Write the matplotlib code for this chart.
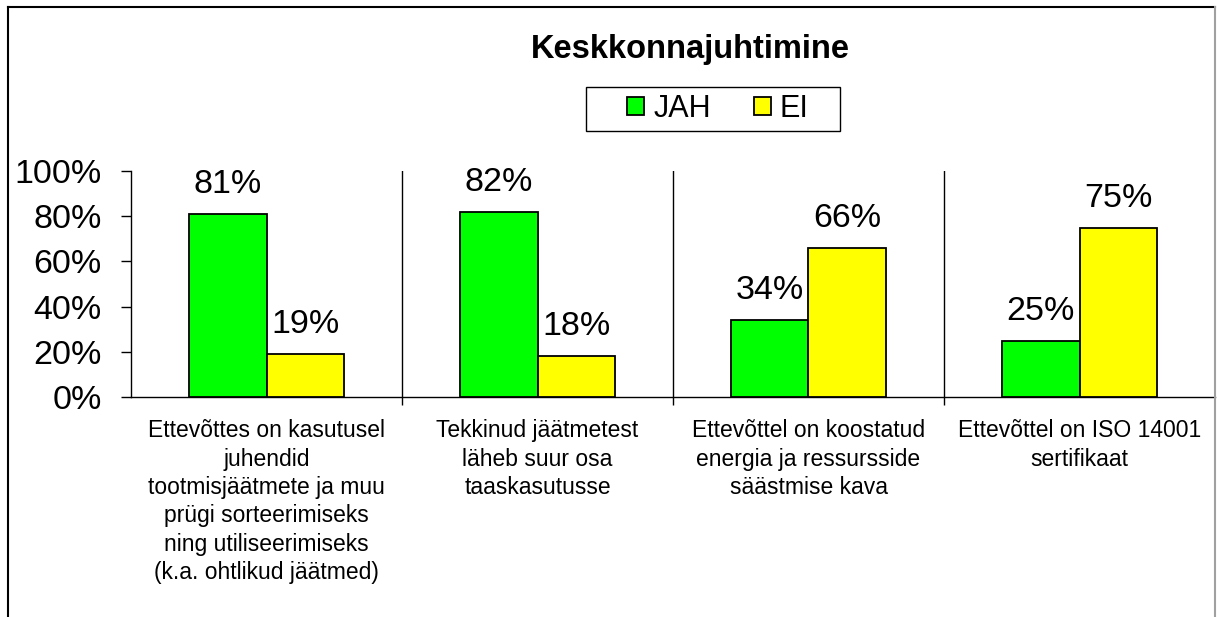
"""Keskkonnajuhtimine - grouped bar chart (JAH / EI)."""

import matplotlib
matplotlib.use("Agg")
import matplotlib.pyplot as plt
from matplotlib.lines import Line2D
from matplotlib.patches import Patch, Rectangle

W, H = 1217, 617

categories = [
    "Ettevõttes on kasutusel\njuhendid\ntootmisjäätmete ja muu\nprügi sorteerimiseks\nning utiliseerimiseks\n(k.a. ohtlikud jäätmed)",
    "Tekkinud jäätmetest\nläheb suur osa\ntaaskasutusse",
    "Ettevõttel on koostatud\nenergia ja ressursside\nsäästmise kava",
    "Ettevõttel on ISO 14001\nsertifikaat",
]
series_names = ["JAH", "EI"]
jah = [81, 82, 34, 25]
ei = [19, 18, 66, 75]
y_ticks = [0, 20, 40, 60, 80, 100]
y_ticklabels = ["0%", "20%", "40%", "60%", "80%", "100%"]

GREEN = "#00ff00"
YELLOW = "#ffff00"

plt.rcParams["font.family"] = ["Liberation Sans", "DejaVu Sans"]

fig = plt.figure(figsize=(W / 100, H / 100), dpi=100)
fig.patch.set_facecolor("white")

# axes placed in pixel terms
x0, x1 = 131, 1215
y_top, y_bot = 171, 397
ax = fig.add_axes([x0 / W, 1 - y_bot / H, (x1 - x0) / W, (y_bot - y_top) / H])

bw = 0.286
xs = list(range(len(categories)))
bars_j = ax.bar([x - bw / 2 for x in xs], jah, width=bw, color=GREEN,
                edgecolor="black", linewidth=1.3, zorder=3)
bars_e = ax.bar([x + bw / 2 for x in xs], ei, width=bw, color=YELLOW,
                edgecolor="black", linewidth=1.3, zorder=3)

for bars, vals in ((bars_j, jah), (bars_e, ei)):
    for b, v in zip(bars, vals):
        ax.annotate(f"{v}%", (b.get_x() + b.get_width() / 2, v),
                    xytext=(0, 15), textcoords="offset points",
                    ha="center", va="baseline", fontsize=24.5)

ax.set_xlim(-0.5, len(categories) - 0.5)
ax.set_ylim(0, 100)
ax.set_yticks(y_ticks)
ax.set_yticklabels(y_ticklabels, fontsize=24.5)
ax.tick_params(axis="y", direction="out", length=7.2, width=1, pad=14)

ax.set_xticks(xs)
ax.set_xticklabels(categories, fontsize=16.5, linespacing=1.3)
ax.tick_params(axis="x", which="major", length=0, pad=16)
ax.set_xticks([x + 0.5 for x in xs[:-1]], minor=True)
ax.tick_params(axis="x", which="minor", direction="out", length=6, width=1)
ax.grid(axis="x", which="minor", color="black", linewidth=1)

for s in ("top", "right"):
    ax.spines[s].set_visible(False)
for s in ("left", "bottom"):
    ax.spines[s].set_linewidth(1)

fig.text(690 / W, 1 - 58 / H, "Keskkonnajuhtimine", ha="center", va="baseline",
         fontsize=23.5, fontweight="bold")

handles = [Patch(facecolor=GREEN, edgecolor="black", linewidth=1.3),
           Patch(facecolor=YELLOW, edgecolor="black", linewidth=1.3)]
leg = fig.legend(handles, series_names, loc="center", ncol=2,
                 bbox_to_anchor=(718 / W, 1 - 109 / H), fontsize=22,
                 frameon=False, handlelength=0.55, handleheight=0.55,
                 handletextpad=0.3, columnspacing=1.4, borderpad=0.25)
# legend box, wider than the entries
fig.add_artist(Rectangle((586 / W, 1 - 131 / H), (840 - 586) / W, 44 / H,
                         transform=fig.transFigure, fill=False,
                         edgecolor="black", linewidth=1))

# outer chart frame
fig.add_artist(Line2D([8 / W, 1215 / W], [1 - 7 / H, 1 - 7 / H], color="black", linewidth=1.5))
fig.add_artist(Line2D([8 / W, 8 / W], [0, 1 - 7 / H], color="black", linewidth=1.5))
fig.add_artist(Line2D([1215 / W, 1215 / W], [0, 1 - 7 / H], color="#a0a0a0", linewidth=1.5))

fig.savefig("out.png", dpi=100)
